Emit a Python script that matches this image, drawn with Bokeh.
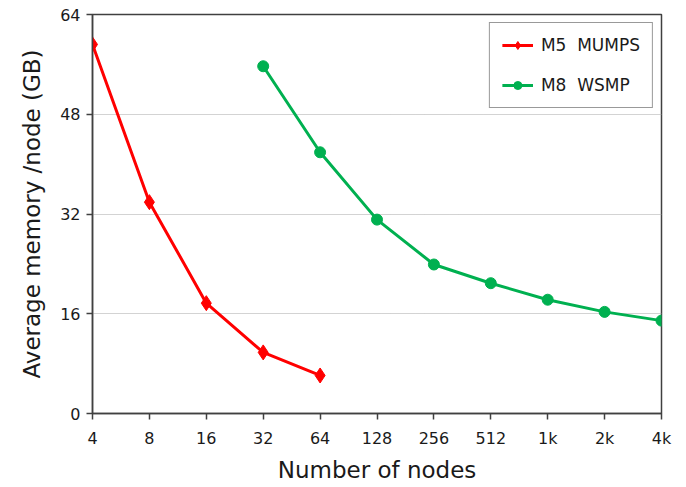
from bokeh.plotting import figure
from bokeh.models import Legend, LegendItem, FixedTicker, Range1d
from bokeh.embed import file_html
from bokeh.resources import INLINE

# Node counts (evenly spaced on a log2 axis)
node_labels = ["4", "8", "16", "32", "64", "128", "256", "512", "1k", "2k", "4k"]

# M5 MUMPS: 4 .. 64 nodes
mumps_nodes = ["4", "8", "16", "32", "64"]
mumps_mem = [59.2, 33.9, 17.7, 9.8, 6.1]

# M8 WSMP: 32 .. 4k nodes
wsmp_nodes = ["32", "64", "128", "256", "512", "1k", "2k", "4k"]
wsmp_mem = [55.7, 41.9, 31.1, 23.9, 20.9, 18.25, 16.3, 14.9]

y_ticks = [0, 16, 32, 48, 64]

pos = {lab: i for i, lab in enumerate(node_labels)}
mx = [pos[n] for n in mumps_nodes]
wx = [pos[n] for n in wsmp_nodes]

FONT = "DejaVu Sans"

p = figure(width=686, height=487, output_backend="svg", toolbar_location=None,
           x_range=Range1d(0, len(node_labels) - 1), y_range=Range1d(0, 64),
           min_border_left=92, min_border_right=25, min_border_top=14, min_border_bottom=74)

p.background_fill_color = "white"
p.border_fill_color = "white"
p.outline_line_color = "#404040"
p.outline_line_width = 1.5

# axes
p.xaxis.ticker = FixedTicker(ticks=list(range(len(node_labels))))
p.xaxis.major_label_overrides = {i: lab for i, lab in enumerate(node_labels)}
p.yaxis.ticker = FixedTicker(ticks=y_ticks)
for ax in (p.xaxis, p.yaxis):
    ax.axis_line_color = "#404040"
    ax.axis_line_width = 1.5
    ax.major_tick_line_color = "#404040"
    ax.major_tick_line_width = 1.5
    ax.major_tick_out = 6
    ax.major_tick_in = 0
    ax.minor_tick_line_color = None
    ax.major_label_text_font = FONT
    ax.major_label_text_font_size = "16px"
    ax.major_label_text_color = "#1a1a1a"
    ax.axis_label_text_font = FONT
    ax.axis_label_text_font_size = "23px"
    ax.axis_label_text_font_style = "normal"
    ax.axis_label_text_color = "#1a1a1a"
p.xaxis.axis_label = "Number of nodes"
p.yaxis.axis_label = "Average memory /node (GB)"
p.xaxis.major_label_standoff = 9
p.xaxis.axis_label_standoff = 6
p.yaxis.major_label_standoff = 6
p.yaxis.axis_label_standoff = 12

# grid
p.xgrid.grid_line_color = None
p.ygrid.ticker = FixedTicker(ticks=[16, 32, 48])
p.ygrid.grid_line_color = "#a6a6a6"
p.ygrid.grid_line_dash = "1 1"
p.ygrid.grid_line_width = 1

RED = "#ff0000"
GREEN = "#00b050"

r1 = p.line(mx, mumps_mem, line_color=RED, line_width=3)
r1m = p.scatter(mx, mumps_mem, marker="diamond", size=15, fill_color=RED, line_color=RED)
r2 = p.line(wx, wsmp_mem, line_color=GREEN, line_width=3)
r2m = p.scatter(wx, wsmp_mem, marker="circle", size=11, fill_color=GREEN, line_color=GREEN)

legend = Legend(items=[LegendItem(label="M5  MUMPS", renderers=[r1, r1m]),
                       LegendItem(label="M8  WSMP", renderers=[r2, r2m])],
                location="top_right")
legend.margin = 8
legend.padding = 12
legend.spacing = 20
legend.label_text_font = FONT
legend.label_text_font_size = "17px"
legend.label_text_color = "#1a1a1a"
legend.glyph_width = 31
legend.glyph_height = 20
legend.label_height = 20
legend.label_standoff = 8
legend.border_line_color = "#333333"
legend.border_line_width = 1.5
legend.background_fill_color = "white"
legend.background_fill_alpha = 1
p.add_layout(legend)

open("out.html", "w").write(file_html(p, INLINE))
